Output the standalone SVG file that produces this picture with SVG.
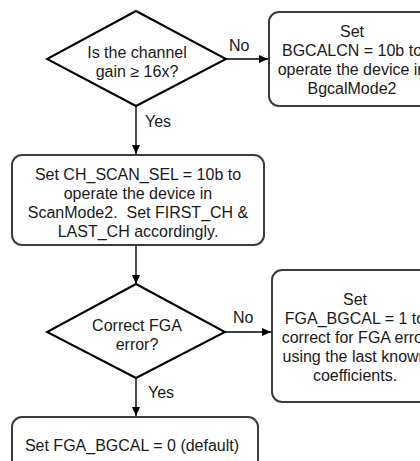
<svg xmlns="http://www.w3.org/2000/svg" width="420" height="461" viewBox="0 0 420 461">
<style>
  .box{fill:#fff;stroke:#3c3c3c;stroke-width:2}
  .dia{fill:#fff;stroke:#000;stroke-width:2;stroke-linejoin:miter}
  .t{font-family:"Liberation Sans",Arial,sans-serif;font-size:16px;fill:#1a1a1a;text-anchor:middle}
  .l{font-family:"Liberation Sans",Arial,sans-serif;font-size:16px;fill:#1a1a1a}
  .c{stroke:#000;stroke-width:1.4;fill:none;marker-end:url(#ah)}
</style>
<defs>
  <marker id="ah" markerUnits="userSpaceOnUse" markerWidth="10" markerHeight="9" refX="9" refY="4" orient="auto">
    <path d="M0,0 L9,4 L0,8 z" fill="#000"/>
  </marker>
</defs>
<rect width="420" height="461" fill="#fff"/>
<g id="connectors">
  <line class="c" x1="226" y1="59" x2="268" y2="59"/>
  <line class="c" x1="136" y1="106" x2="136" y2="154"/>
  <line class="c" x1="136" y1="245" x2="136" y2="284"/>
  <line class="c" x1="225" y1="332" x2="271" y2="332"/>
  <line class="c" x1="136" y1="378" x2="136" y2="416"/>
  <text class="l" x="229" y="51">No</text>
  <text class="l" x="145" y="127">Yes</text>
  <text class="l" x="233" y="323">No</text>
  <text class="l" x="148" y="398">Yes</text>
</g>
<g id="decision1">
  <polygon class="dia" points="136,11 226,59 136,106 47,59"/>
  <text class="t" x="137" y="58">Is the channel</text>
  <text class="t" x="137" y="77">gain ≥ 16x?</text>
</g>
<g id="bgcal">
  <rect class="box" x="269" y="12" width="166" height="94" rx="10"/>
  <text class="t" x="352" y="37">Set</text>
  <text class="t" x="352" y="56">BGCALCN = 10b to</text>
  <text class="t" x="352" y="75">operate the device in</text>
  <text class="t" x="352" y="94">BgcalMode2</text>
</g>
<g id="scanmode">
  <rect class="box" x="12" y="155" width="252" height="90" rx="10"/>
  <text class="t" x="138" y="180">Set CH_SCAN_SEL = 10b to</text>
  <text class="t" x="138" y="199">operate the device in</text>
  <text class="t" x="138" y="218" xml:space="preserve">ScanMode2.  Set FIRST_CH &amp;</text>
  <text class="t" x="138" y="237">LAST_CH accordingly.</text>
</g>
<g id="decision2">
  <polygon class="dia" points="136,284 225,332 136,378 47,332"/>
  <text class="t" x="137" y="331">Correct FGA</text>
  <text class="t" x="137" y="350">error?</text>
</g>
<g id="fgacorrect">
  <rect class="box" x="272" y="270" width="166" height="132" rx="10"/>
  <text class="t" x="355" y="305">Set</text>
  <text class="t" x="355" y="324">FGA_BGCAL = 1 to</text>
  <text class="t" x="355" y="343">correct for FGA error</text>
  <text class="t" x="355" y="362">using the last known</text>
  <text class="t" x="355" y="381">coefficients.</text>
</g>
<g id="fgadefault">
  <rect class="box" x="12" y="417" width="246" height="60" rx="10"/>
  <text class="t" x="132" y="451">Set FGA_BGCAL = 0 (default)</text>
</g>
</svg>
